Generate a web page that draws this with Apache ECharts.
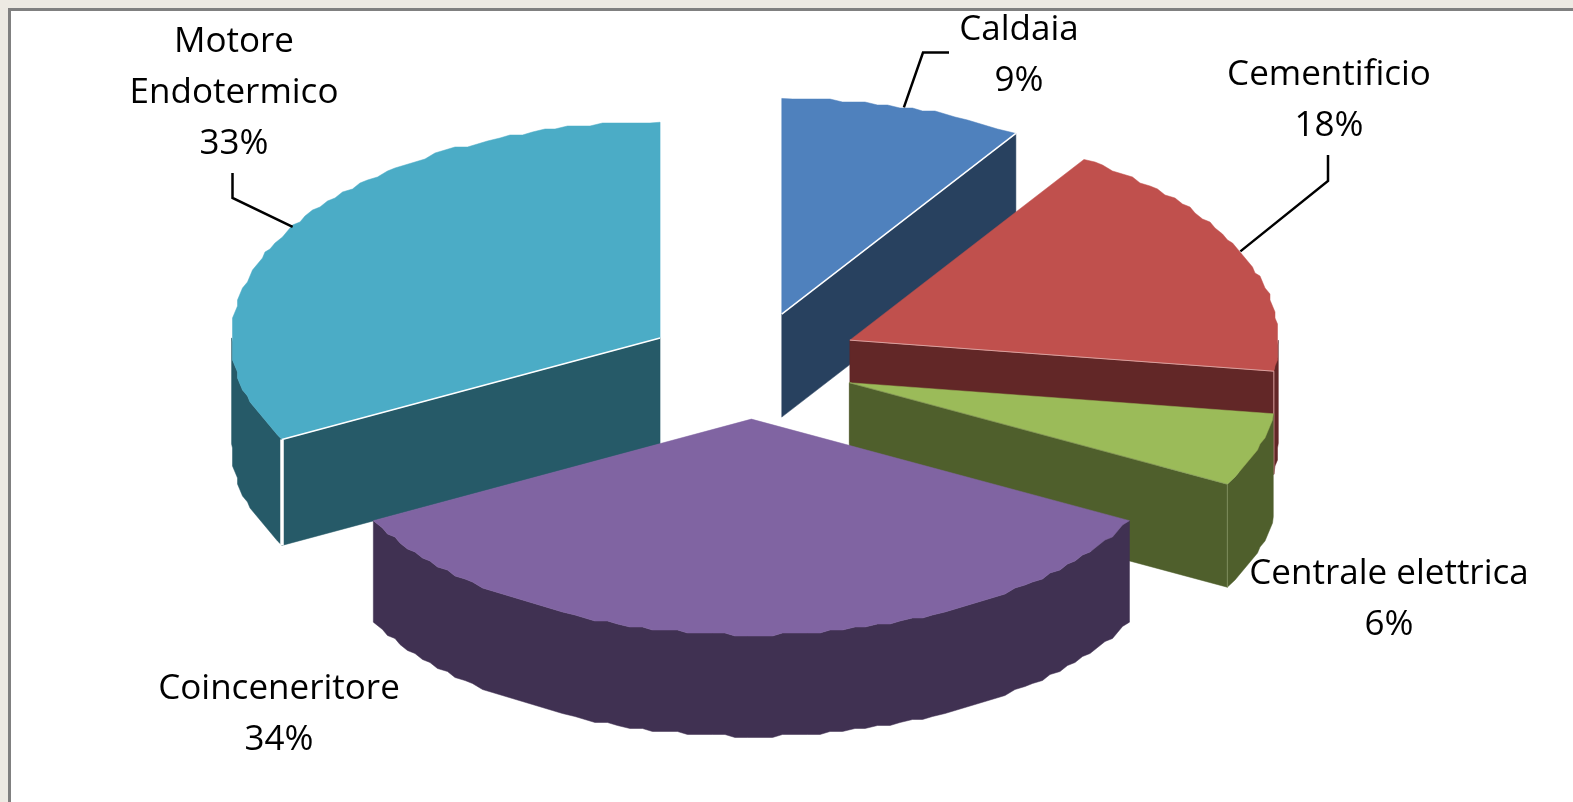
<!DOCTYPE html>
<html><head><meta charset="utf-8">
<style>html,body{margin:0;padding:0;background:#EDEAE3}#c{width:1573px;height:802px}</style>
<script src="https://cdn.jsdelivr.net/npm/echarts@6/dist/echarts.min.js"></script>
</head><body><div id="c"></div>
<script>
// Data
const categories = ['Caldaia', 'Cementificio', 'Centrale elettrica', 'Coinceneritore', 'Motore Endotermico'];
const shares = [9.2, 18.1, 5.5, 34.4, 32.8];
const percentLabels = ['9%', '18%', '6%', '34%', '33%'];

// Styles and layout
const topColors = ['#4F81BD', '#C0504D', '#9BBB59', '#8064A2', '#4BACC6'];
const sideColors = ['#28415F', '#622727', '#4F5F2C', '#403152', '#265A68'];
const labelLines = [['Caldaia', '9%'], ['Cementificio', '18%'], ['Centrale elettrica', '6%'], ['Coinceneritore', '34%'], ['Motore', 'Endotermico', '33%']];
const labelX = [1019, 1329, 1389, 279, 234];
const labelBase = [40, 85, 584, 699, 52];
const leaderBends = [[[949, 52.5], [923, 52.5]], [[1328, 155], [1328, 181]], null, null, [[232.5, 173], [232.5, 198]]];
const seamColor = ['#ffffff', '#D9A09E', '#7F8F5E', null, '#ffffff'];
const seamEdgeW = [1.5, 1, 0.5, 0, 1.5];
const seamPostW = [0, 1, 1, 0, 3.5];
const explode = [106.5, 108, 103, 106.5, 106.5];
const nudgeY = [0, -3, 1, 0, 0];
const depths = [103, 103, 103, 101.5, 106];
const geo = { cx: 751.4, cy: 365.5, rx: 428.5, ry: 215.7 };
const FONT = '35px "Open Sans", Lato, sans-serif';
const LINE = 51;
const ASCENT = 27;

const total = shares.reduce((a, b) => a + b, 0);
const D = Math.PI / 180;
let acc = 0;
const slices = shares.map((v, i) => {
  const a0 = acc / total * 360; acc += v;
  return { i, a0, a1: acc / total * 360, mid: (a0 + acc / total * 360) / 2 };
});
// Painter's order: back slices first
const order = slices.slice().sort((p, q) => Math.cos(q.mid * D) - Math.cos(p.mid * D)).map(s => s.i);

function apex(s) {
  return [geo.cx + explode[s.i] * Math.sin(s.mid * D),
          geo.cy + nudgeY[s.i] - explode[s.i] * Math.cos(s.mid * D) * geo.ry / geo.rx];
}
function rim(s, ang) {
  const c = apex(s);
  return [c[0] + geo.rx * Math.sin(ang * D), c[1] - geo.ry * Math.cos(ang * D)];
}
// Outline in the coarse, stepped look of the source bitmap
function arc(s, a0, a1) {
  const pts = [rim(s, a0)];
  const step = 1.6;
  for (let a = a0 + step; a < a1 - step / 2; a += step) {
    const p = rim(s, a);
    pts.push([Math.round(p[0] / 2.5) * 2.5, Math.round(p[1] / 3) * 3]);
  }
  pts.push(rim(s, a1));
  return pts;
}
const poly = (points, fill) => ({ type: 'polygon', shape: { points }, style: { fill, stroke: fill, lineWidth: 0.5 } });
const seg = (a, b, stroke, lineWidth) => ({ type: 'line', shape: { x1: a[0], y1: a[1], x2: b[0], y2: b[1] }, style: { stroke, lineWidth } });

function renderSlice(params, api) {
  const s = slices[api.value(0)];
  const i = s.i, c = apex(s), side = sideColors[i], kids = [], h = depths[i];
  const A = rim(s, s.a0), B = rim(s, s.a1);
  const wall = (P) => poly([c, P, [P[0], P[1] + h], [c[0], c[1] + h]], side);
  if (Math.sin(s.a0 * D) < -1e-6) kids.push(wall(A));
  if (Math.sin(s.a1 * D) > 1e-6) kids.push(wall(B));
  const r0 = Math.max(s.a0, 90), r1 = Math.min(s.a1, 270);
  if (r1 > r0) {
    const t = arc(s, r0, r1);
    kids.push(poly(t.concat(t.map(p => [p[0], p[1] + h]).reverse()), side));
  }
  kids.push(poly([c].concat(arc(s, s.a0, s.a1)), topColors[i]));
  // Thin seams between faces
  const edge = Math.sin(s.a1 * D) > 1e-6 ? B : (Math.sin(s.a0 * D) < -1e-6 ? A : null);
  if (edge && seamColor[i]) {
    if (seamEdgeW[i]) kids.push(seg(c, edge, seamColor[i], seamEdgeW[i]));
    if (seamPostW[i]) kids.push(seg(edge, [edge[0], edge[1] + h], seamColor[i], seamPostW[i]));
  }
  return { type: 'group', children: kids };
}
// Leader lines and labels go on top of every slice
function renderLabel(params, api) {
  const i = api.value(0), kids = [];
  if (leaderBends[i]) {
    const pts = leaderBends[i].concat([rim(slices[i], slices[i].mid)]);
    kids.push({ type: 'polyline', shape: { points: pts }, style: { fill: null, stroke: '#000', lineWidth: 2.5 } });
  }
  labelLines[i].forEach((t, k) => kids.push({
    type: 'text', style: { text: t, x: labelX[i], y: labelBase[i] - ASCENT + k * LINE, font: FONT, fill: '#000', align: 'center', verticalAlign: 'top' }
  }));
  return { type: 'group', children: kids };
}

const chart = echarts.init(document.getElementById('c'));
chart.setOption({
  animation: false,
  backgroundColor: '#EDEAE3',
  graphic: [{ type: 'rect', silent: true, z: 0, shape: { x: 9.5, y: 9.5, width: 1600, height: 850 }, style: { fill: '#fff', stroke: '#808080', lineWidth: 3 } }],
  series: [
    { type: 'custom', coordinateSystem: 'none', z: 2, silent: true, data: order.map(i => [i, shares[i], categories[i]]), renderItem: renderSlice },
    { type: 'custom', coordinateSystem: 'none', z: 3, silent: true, data: categories.map((n, i) => [i, percentLabels[i], n]), renderItem: renderLabel }
  ]
});
</script></body></html>
